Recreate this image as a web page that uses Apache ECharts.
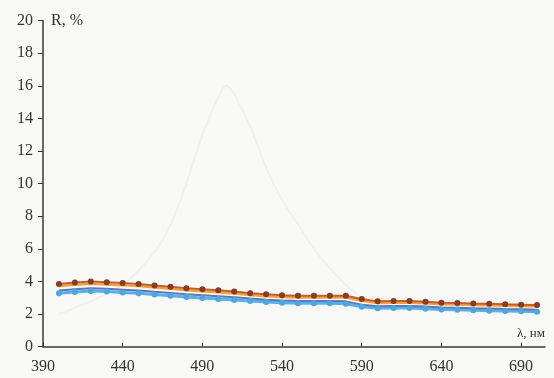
<!DOCTYPE html>
<html><head><meta charset="utf-8">
<script src="https://cdn.jsdelivr.net/npm/echarts@6/dist/echarts.min.js"></script>
<style>html,body{margin:0;padding:0;background:#f8f8f6}#c{width:554px;height:378px}</style>
</head><body><div id="c"></div>
<script>
const wavelengths = [400,410,420,430,440,450,460,470,480,490,500,510,520,530,540,550,560,570,580,590,600,610,620,630,640,650,660,670,680,690,700];
const seriesBrown = [3.85,3.93,4.0,3.95,3.9,3.85,3.75,3.68,3.58,3.52,3.46,3.38,3.28,3.21,3.15,3.12,3.12,3.12,3.12,2.92,2.78,2.8,2.8,2.75,2.7,2.68,2.65,2.63,2.6,2.58,2.55];
const seriesOrange = [3.72,3.8,3.86,3.82,3.77,3.72,3.63,3.56,3.46,3.4,3.34,3.26,3.17,3.1,3.05,3.02,3.02,3.02,3.02,2.82,2.68,2.7,2.7,2.66,2.61,2.59,2.56,2.54,2.51,2.49,2.46];
const seriesNavy = [3.45,3.52,3.58,3.55,3.5,3.45,3.37,3.3,3.22,3.16,3.1,3.03,2.95,2.88,2.83,2.8,2.8,2.8,2.78,2.58,2.48,2.5,2.5,2.46,2.41,2.39,2.36,2.34,2.31,2.29,2.27];
const seriesBlue = [3.28,3.35,3.42,3.38,3.33,3.28,3.2,3.13,3.05,2.99,2.93,2.87,2.8,2.74,2.69,2.67,2.67,2.67,2.64,2.45,2.36,2.38,2.38,2.33,2.28,2.26,2.23,2.21,2.19,2.17,2.15];
const ghostX = [400,420,440,460,470,480,490,500,505,510,520,530,540,550,560,570,580,590];
const ghostY = [2.0,2.8,3.8,5.8,7.5,10,13,15.3,16,15.5,13.5,11,9,7.5,6,4.8,3.8,3.0];
const xTicks = [390,440,490,540,590,640,690];

const pair = (xs, ys) => xs.map((x, i) => [x, ys[i]]);
const serif = "'Liberation Serif','DejaVu Serif',serif";
const chart = echarts.init(document.getElementById('c'));
chart.setOption({
  backgroundColor: '#f8f8f6',
  animation: false,
  grid: {left: 43, right: 9, top: 20.6, bottom: 31.3},
  xAxis: {
    type: 'value', min: 390, max: 705,
    name: 'λ, нм', nameLocation: 'end', nameGap: 0,
    nameTextStyle: {fontFamily: serif, fontSize: 13, color: '#333', align: 'right', verticalAlign: 'bottom', padding: [0, 0, 7, 0]},
    axisLine: {lineStyle: {color: '#3a3a3a', width: 1.5}},
    axisTick: {show: true, inside: true, length: 4, customValues: xTicks, lineStyle: {color: '#3a3a3a'}},
    axisLabel: {customValues: xTicks, fontFamily: serif, fontSize: 16, color: '#333', margin: 12},
    splitLine: {show: false}
  },
  yAxis: {
    type: 'value', min: 0, max: 20, interval: 2,
    name: 'R, %', nameLocation: 'end', nameGap: 0,
    nameTextStyle: {fontFamily: serif, fontSize: 16, color: '#333', align: 'left', verticalAlign: 'middle', padding: [0, 0, 0, 8]},
    axisLine: {show: true, lineStyle: {color: '#3a3a3a', width: 1.5}},
    axisTick: {show: true, length: 5, lineStyle: {color: '#3a3a3a'}},
    axisLabel: {fontFamily: serif, fontSize: 16, color: '#333', margin: 10},
    splitLine: {show: false}
  },
  series: [
    {type: 'line', data: pair(ghostX, ghostY), smooth: 0.3, symbol: 'none', lineStyle: {color: '#f0f0ee', width: 2}, z: 1},
    {type: 'line', data: pair(wavelengths, seriesBlue), symbol: 'circle', symbolSize: 6, itemStyle: {color: '#4fa6dc'}, lineStyle: {color: '#5ab0e6', width: 3}},
    {type: 'line', data: pair(wavelengths, seriesNavy), symbol: 'none', lineStyle: {color: '#5a78b8', width: 2}},
    {type: 'line', data: pair(wavelengths, seriesOrange), symbol: 'none', lineStyle: {color: '#f0a040', width: 2.5}},
    {type: 'line', data: pair(wavelengths, seriesBrown), symbol: 'circle', symbolSize: 6, itemStyle: {color: '#8a3b22'}, lineStyle: {color: '#c0602a', width: 2}}
  ]
});
</script></body></html>
